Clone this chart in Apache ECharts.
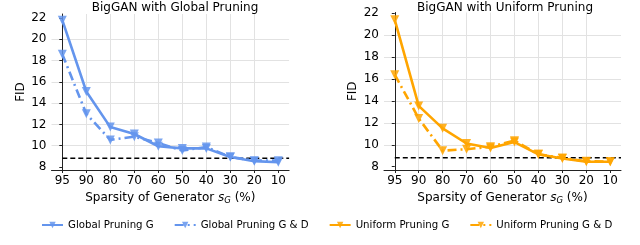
<!DOCTYPE html>
<html><head><meta charset="utf-8">
<script src="https://cdn.jsdelivr.net/npm/echarts@6/dist/echarts.min.js"></script>
<style>html,body{margin:0;padding:0;background:#fff}#c{width:640px;height:245px}</style>
</head><body><div id="c"></div>
<script>
const categories = ['95','90','80','70','60','50','40','30','20','10'];
const yTicks = [8,10,12,14,16,18,20,22];
const globalG  = [21.8,15.1,11.75,11.1,9.95,9.75,9.75,8.95,8.55,8.45];
const globalGD = [18.6,13.0,10.55,10.85,10.25,9.55,9.88,8.95,8.6,8.6];
const uniformG  = [21.4,13.55,11.5,10.12,9.7,10.25,9.13,8.75,8.45,8.45];
const uniformGD = [16.4,12.4,9.46,9.6,9.82,10.38,9.13,8.8,8.5,8.45];
const baselineFID = 8.82;
const titles = ['BigGAN with Global Pruning','BigGAN with Uniform Pruning'];
const seriesNames = ['Global Pruning G','Global Pruning G & D','Uniform Pruning G','Uniform Pruning G & D'];

const FONT = 'DejaVu Sans';
const BLUE = '#6495ED', ORANGE = '#FFA500';
const xMin = -0.45, xMax = 9.45;
const idx = categories.map((c,i)=>i);

function xAxis(gi){
  return {
    type:'value', gridIndex:gi, min:xMin, max:xMax,
    name:'{n|Sparsity of Generator }{i|s}{s|G}{n| (%)}',
    nameLocation:'middle', nameGap:16,
    nameTextStyle:{rich:{
      n:{fontFamily:FONT,fontSize:12,color:'#000'},
      i:{fontFamily:FONT,fontSize:12,fontStyle:'italic',color:'#000'},
      s:{fontFamily:FONT,fontSize:8.5,fontStyle:'italic',color:'#000',padding:[5,0,0,0]}
    }},
    axisLine:{show:true,onZero:false,lineStyle:{color:'#222',width:1}},
    axisTick:{show:true,length:3,customValues:idx,lineStyle:{color:'#222'}},
    axisLabel:{customValues:idx,margin:5,fontFamily:FONT,fontSize:12,color:'#000',
      formatter:v=>categories[Math.round(v)]},
    splitLine:{show:true,customValues:idx,showMinLine:false,showMaxLine:false,lineStyle:{color:'#e2e2e2',width:1}}
  };
}
function yAxis(gi,min,max){
  return {
    type:'value', gridIndex:gi, min:min, max:max,
    name:'FID', nameLocation:'middle', nameGap:25,
    nameTextStyle:{fontFamily:FONT,fontSize:12,color:'#000'},
    axisLine:{show:true,lineStyle:{color:'#222',width:1}},
    axisTick:{show:true,length:3,customValues:yTicks,lineStyle:{color:'#222'}},
    axisLabel:{customValues:yTicks,margin:5,fontFamily:FONT,fontSize:12,color:'#000'},
    splitLine:{show:true,customValues:yTicks,showMinLine:false,showMaxLine:false,lineStyle:{color:'#e2e2e2',width:1}}
  };
}
function lineSeries(name,vals,color,dash,gi){
  return {
    name:name,type:'line',xAxisIndex:gi,yAxisIndex:gi,
    data:vals.map((v,i)=>[i,v]),
    symbol:'triangle',symbolRotate:180,symbolSize:9,showSymbol:true,
    lineStyle:{color:color,width:2.6,type:dash},
    itemStyle:{color:color,opacity:0.85},
    z:3,animation:false
  };
}
function baseline(gi){
  return {type:'line',xAxisIndex:gi,yAxisIndex:gi,data:[[0,baselineFID],[xMax,baselineFID]],
    symbol:'none',lineStyle:{color:'#000',width:1.6,type:[5,3]},z:2,animation:false,silent:true};
}
const DASHDOT=[9,4,2,4];
const option = {
  backgroundColor:'#fff',
  animation:false,
  title:[
    {text:titles[0],left:170,top:-3,textAlign:'center',textStyle:{fontFamily:FONT,fontSize:12,fontWeight:'normal',color:'#000'}},
    {text:titles[1],left:500,top:-3,textAlign:'center',textStyle:{fontFamily:FONT,fontSize:12,fontWeight:'normal',color:'#000'}}
  ],
  grid:[
    {left:51.5,top:14,width:237.6,height:156},
    {left:384,top:12.5,width:237,height:157.5}
  ],
  xAxis:[xAxis(0),xAxis(1)],
  yAxis:[yAxis(0,7.72,22.38),yAxis(1,7.7,22.07)],
  legend:{data:seriesNames,left:36,top:215,itemWidth:21,itemHeight:8,itemGap:20,
    textStyle:{fontFamily:FONT,fontSize:10.2,color:'#000'}},
  series:[
    lineSeries(seriesNames[0],globalG,BLUE,'solid',0),
    lineSeries(seriesNames[1],globalGD,BLUE,DASHDOT,0),
    baseline(0),
    lineSeries(seriesNames[2],uniformG,ORANGE,'solid',1),
    lineSeries(seriesNames[3],uniformGD,ORANGE,DASHDOT,1),
    baseline(1)
  ]
};
const chart = echarts.init(document.getElementById('c'),null,{renderer:'canvas'});
chart.setOption(option);
</script></body></html>
